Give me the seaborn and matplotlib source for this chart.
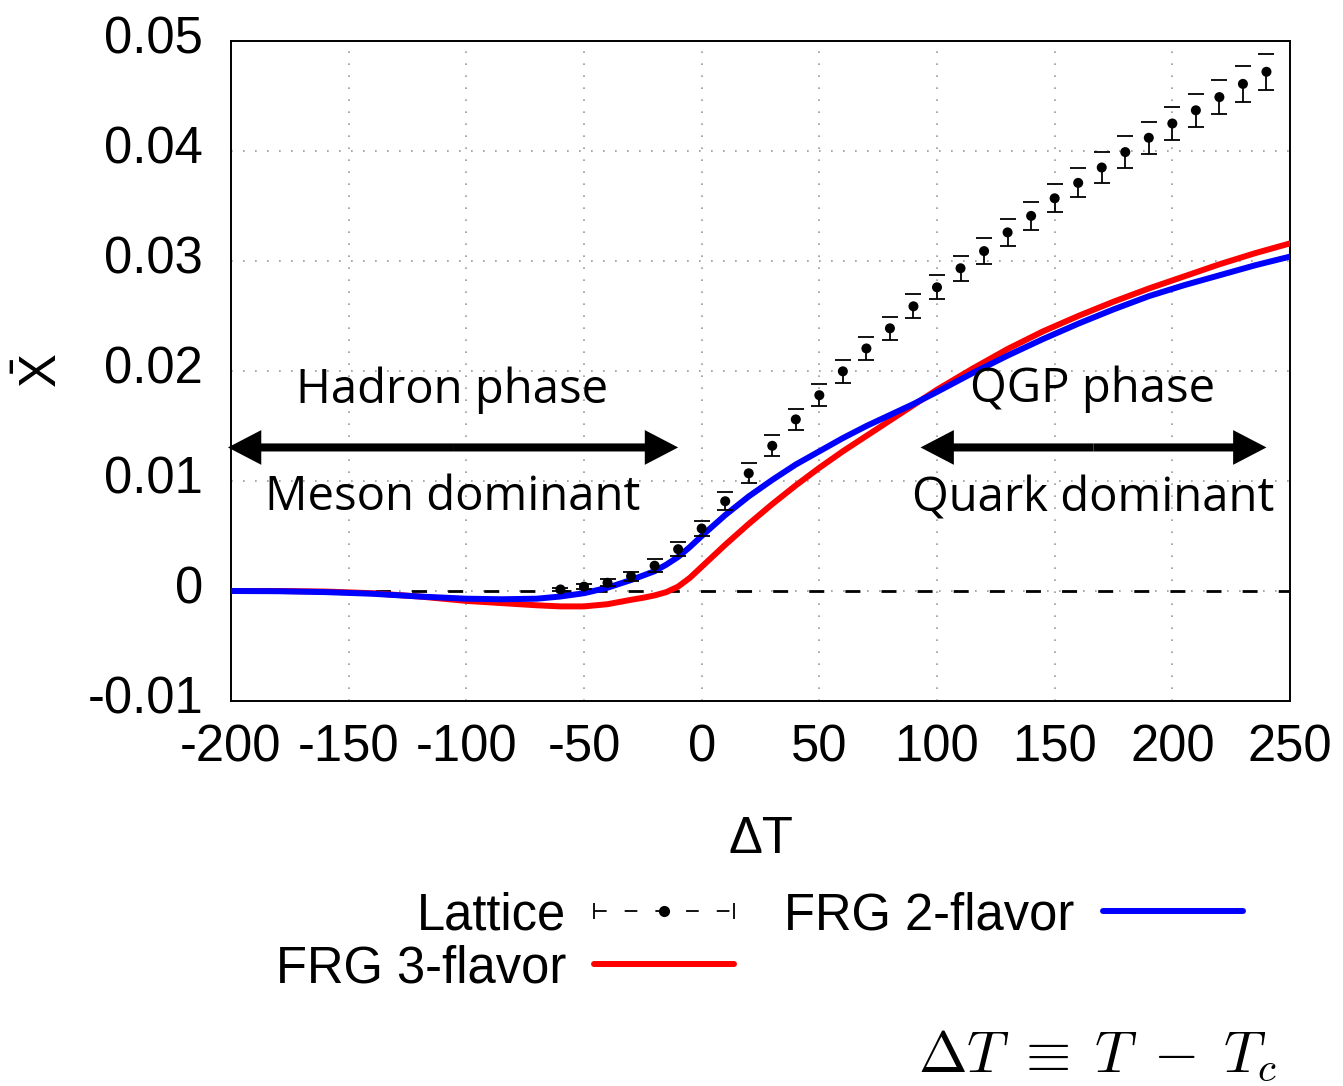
import numpy as np
import pandas as pd
import matplotlib
matplotlib.use("Agg")
import matplotlib.pyplot as plt
import seaborn as sns
from matplotlib.lines import Line2D
from matplotlib.legend_handler import HandlerLine2D, HandlerTuple
from matplotlib.transforms import ScaledTranslation

# ---- data -------------------------------------------------------------
# Lattice points (Delta T, value, error)
lat_dT = [-60, -50, -40, -30, -20, -10, 0, 10, 20, 30, 40, 50, 60, 70, 80, 90,
          100, 110, 120, 130, 140, 150, 160, 170, 180, 190, 200, 210, 220, 230, 240]
lat_val = [0.00014, 0.0004, 0.00075, 0.00135, 0.0023, 0.0038, 0.00568, 0.00816,
           0.0107, 0.0132, 0.0156, 0.0178, 0.01997, 0.02205, 0.02388, 0.02588,
           0.02761, 0.02934, 0.0309, 0.0326, 0.0341, 0.0357, 0.0371, 0.0385,
           0.0399, 0.0412, 0.0425, 0.0437, 0.0449, 0.0461, 0.0472]
lat_err = [0.00015, 0.0002, 0.0003, 0.00042, 0.0006, 0.00062, 0.00068, 0.00082,
           0.0009, 0.00095, 0.00097, 0.00098, 0.00103, 0.00106, 0.00106, 0.0011,
           0.00109, 0.00112, 0.00116, 0.0012, 0.0013, 0.00129, 0.00132, 0.0014,
           0.00143, 0.00144, 0.0015, 0.00152, 0.00153, 0.00164, 0.00162]

# FRG curves, sampled on a common Delta T grid
frg_dT = [-200, -180, -160, -140, -120, -100, -85, -70, -60, -50, -40, -30, -25,
          -20, -15, -10, -5, 0, 10, 20, 30, 40, 50, 60, 70, 80, 90, 100, 115,
          130, 145, 160, 175, 190, 205, 220, 235, 250]
frg3_val = [0.0, 0.0, -0.00005, -0.0002, -0.0005, -0.0009, -0.0011, -0.0013,
            -0.0014, -0.0014, -0.0012, -0.0008, -0.00062, -0.0004, -0.0001,
            0.0004, 0.0012, 0.0022, 0.0042, 0.0061, 0.0079, 0.0096, 0.0112,
            0.0127, 0.0141, 0.0155, 0.0169, 0.0183, 0.0202, 0.0220, 0.0236,
            0.0250, 0.0263, 0.0275, 0.0286, 0.0297, 0.0307, 0.0316]
frg2_val = [0.0, -0.00002, -0.0001, -0.00025, -0.0005, -0.0007, -0.00075, -0.0007,
            -0.0005, -0.0002, 0.0003, 0.0010, 0.0014, 0.0018, 0.0024, 0.0031,
            0.0040, 0.0050, 0.0069, 0.0086, 0.0101, 0.0115, 0.0127, 0.0139,
            0.0150, 0.0160, 0.0170, 0.0181, 0.0198, 0.0214, 0.0229, 0.0243,
            0.0256, 0.0268, 0.0278, 0.0287, 0.0296, 0.0304]

x_ticks = [-200, -150, -100, -50, 0, 50, 100, 150, 200, 250]
x_ticklabels = ["-200", "-150", "-100", "-50", "0", "50", "100", "150", "200", "250"]
y_ticks = [-0.01, 0.0, 0.01, 0.02, 0.03, 0.04, 0.05]
y_ticklabels = ["-0.01", "0", "0.01", "0.02", "0.03", "0.04", "0.05"]

# ---- style ------------------------------------------------------------
sns.set_theme(style="white")
plt.rcParams["font.family"] = ["Liberation Sans", "DejaVu Sans"]
plt.rcParams["text.color"] = "black"
plt.rcParams["axes.labelcolor"] = "black"
plt.rcParams["axes.unicode_minus"] = False
plt.rcParams["mathtext.fontset"] = "custom"
plt.rcParams["mathtext.rm"] = "Liberation Sans"
plt.rcParams["mathtext.it"] = "Liberation Sans:italic"
plt.rcParams["mathtext.bf"] = "Liberation Sans:bold"

FS = 36.5
fig = plt.figure(figsize=(13.43, 10.86), dpi=100)
ax = fig.add_axes([231 / 1343, 1 - 701 / 1086, (1290 - 231) / 1343, (701 - 41) / 1086])

ax.set_xlim(-200, 250)
ax.set_ylim(-0.01, 0.05)
ax.set_xticks(x_ticks, labels=x_ticklabels)
ax.set_yticks(y_ticks, labels=y_ticklabels)
ax.tick_params(axis="both", direction="in", length=12, width=1.1, color="black",
               labelsize=FS, labelcolor="black", top=False, right=False)
ax.tick_params(axis="x", pad=16.5)
ax.tick_params(axis="y", pad=20)
lift = ScaledTranslation(0, 6 / 100, fig.dpi_scale_trans)
for lbl in ax.get_yticklabels():
    lbl.set_transform(lbl.get_transform() + lift)
for sp in ax.spines.values():
    sp.set_color("black")
    sp.set_linewidth(1.4)

ax.grid(True, color="#9a9a9a", lw=1.2, linestyle=(0, (1, 6.2)))
ax.set_axisbelow(True)

# zero reference
ax.axhline(0, color="black", lw=2, dashes=(5.4, 7.6), zorder=1.5)

# ---- curves -----------------------------------------------------------
df = pd.DataFrame({"dT": frg_dT, "frg3": frg3_val, "frg2": frg2_val})
sns.lineplot(data=df, x="dT", y="frg3", color="#ff0000", linewidth=4.3, ax=ax,
             legend=False, zorder=3)
sns.lineplot(data=df, x="dT", y="frg2", color="#0000ff", linewidth=4.3, ax=ax,
             legend=False, zorder=4)

# ---- lattice points ---------------------------------------------------
lx = np.array(lat_dT, dtype=float)
ly = np.array(lat_val)
le = np.array(lat_err)
ax.errorbar(lx, ly, yerr=[le, np.zeros_like(le)], fmt="none", ecolor="black",
            elinewidth=1.3, capsize=0, zorder=5)
ax.plot(lx, ly - le, ls="none", marker="_", ms=11, mew=1.3, color="black", zorder=5)
ax.plot(lx, ly + le, ls="none", marker="_", ms=11, mew=1.3, color="black", zorder=5)
sns.scatterplot(x=lx, y=ly, color="black", s=52, edgecolor="none", ax=ax,
                zorder=6, legend=False)

# ---- phase annotations ------------------------------------------------
arrow_style = "simple,head_length=24,head_width=25,tail_width=5.8"
arrow_y = 0.01305
for (a, b) in [(-201.3, -10.0), (93.0, 240.0)]:
    mid = 0.5 * (a + b)
    for tip in (a, b):
        ax.annotate("", xy=(tip, arrow_y), xytext=(mid, arrow_y),
                    arrowprops=dict(arrowstyle=arrow_style, mutation_scale=1,
                                    lw=0, color="black", shrinkA=0, shrinkB=0),
                    annotation_clip=False, zorder=7)

txt_kw = dict(fontsize=34, family=["Open Sans", "DejaVu Sans"], color="black",
              ha="center", va="baseline", zorder=8)
ax.text(-106, 0.01709, "Hadron phase", **txt_kw)
ax.text(-106, 0.00736, "Meson dominant", **txt_kw)
ax.text(166, 0.01718, "QGP phase", **txt_kw)
ax.text(166.5, 0.0072, "Quark dominant", **txt_kw)

# ---- labels -----------------------------------------------------------
ax.set_xlabel("ΔT", fontsize=FS, color="black", labelpad=30)
ax.set_ylabel(r"$\bar{\mathrm{X}}$", fontsize=FS, color="black", labelpad=14)

fig.text(1277 / 1343, 1 - 1072 / 1086, r"$\Delta T\;\equiv\;T\;-\;T_c$",
         fontsize=42, math_fontfamily="cm", ha="right", va="baseline",
         color="black")

# ---- legend -----------------------------------------------------------
lat_line = Line2D([], [], color="black", lw=1.3, ls=(0, (7, 10)))
lat_ends = Line2D([], [], color="black", ls="none", marker="|", ms=12, mew=1.3)
lat_dot = Line2D([], [], color="black", ls="none", marker="o", ms=7)
h3 = Line2D([], [], color="#ff0000", lw=4.3)
h2 = Line2D([], [], color="#0000ff", lw=4.3)
leg = fig.legend([(lat_line, lat_ends, lat_dot), h3, h2],
                 ["Lattice", "FRG 3-flavor", "FRG 2-flavor"],
                 handler_map={lat_ends: HandlerLine2D(numpoints=2, marker_pad=0),
                              tuple: HandlerTuple(ndivide=1, pad=0)},
                 ncol=2, markerfirst=False, frameon=False, fontsize=FS,
                 handlelength=2.76, handletextpad=0.55, columnspacing=0.99,
                 labelspacing=0.08, borderpad=0, borderaxespad=0,
                 loc="upper left", bbox_to_anchor=(276 / 1343, 1 - 891 / 1086))
for t in leg.get_texts():
    t.set_color("black")

fig.savefig("out.png", dpi=100)
